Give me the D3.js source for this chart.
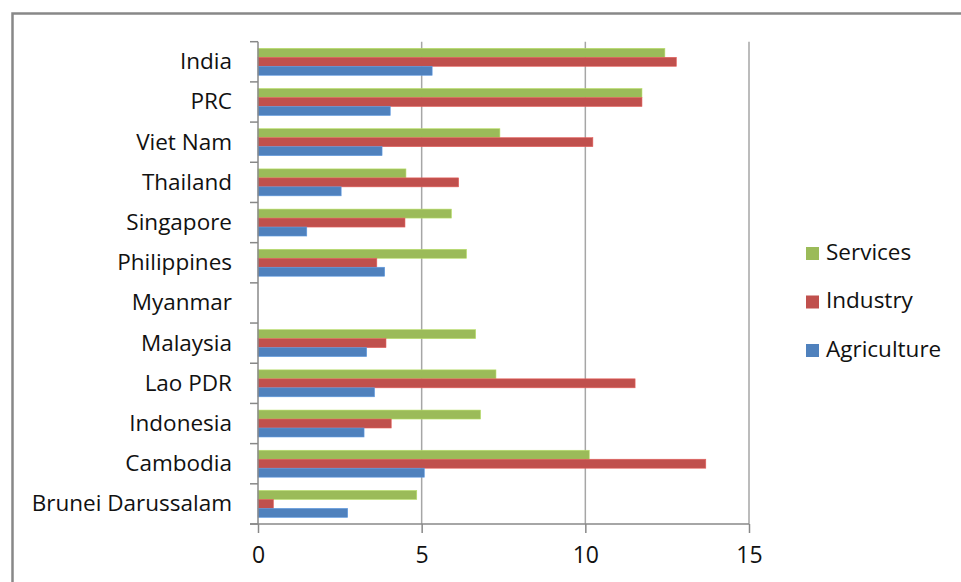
<!DOCTYPE html>
<html>
<head>
<meta charset="utf-8">
<script src="https://cdn.jsdelivr.net/npm/d3@7"></script>
<style>
  body { margin: 0; background: #fff; }
  text { font-family: "Open Sans", sans-serif; fill: #111; }
</style>
</head>
<body>
<div id="viz"></div>
<script>
// countries, top to bottom
var countries = ["India", "PRC", "Viet Nam", "Thailand", "Singapore", "Philippines",
  "Myanmar", "Malaysia", "Lao PDR", "Indonesia", "Cambodia", "Brunei Darussalam"];

var seriesNames = ["Services", "Industry", "Agriculture"];
var seriesColors = ["#9bbb59", "#c0504d", "#4f81bd"];

// values per country, same order as countries (Myanmar has no data)
var services    = [12.43, 11.73, 7.39, 4.52, 5.91, 6.37, null, 6.65, 7.27, 6.80, 10.12, 4.85];
var industry    = [12.78, 11.73, 10.23, 6.13, 4.49, 3.63, null, 3.91, 11.52, 4.07, 13.68, 0.47];
var agriculture = [5.32, 4.04, 3.79, 2.54, 1.49, 3.87, null, 3.32, 3.56, 3.24, 5.08, 2.74];

var xTicks = [0, 5, 10, 15];

var width = 961, height = 582;
var plotLeft = 258, plotRight = 749, plotTop = 41.7, plotBottom = 524;

var seriesData = [services, industry, agriculture];

var svg = d3.select("#viz").append("svg")
  .attr("width", width)
  .attr("height", height);

// outer frame (only top and left visible in the shot)
svg.append("path")
  .attr("d", "M12.5," + height + "V13.5H" + width)
  .attr("fill", "none")
  .attr("stroke", "#888")
  .attr("stroke-width", 2.5);

var x = d3.scaleLinear().domain([0, 15]).range([plotLeft, plotRight]);

var pad = 0.33;
var y = d3.scaleBand()
  .domain(countries)
  .range([plotTop, plotBottom])
  .paddingInner(pad)
  .paddingOuter(pad / 2);

var ySub = d3.scaleBand()
  .domain(seriesNames)
  .range([0, y.bandwidth()]);

// vertical gridlines
svg.append("g").selectAll("line")
  .data(xTicks.filter(function(d) { return d > 0; }))
  .enter().append("line")
    .attr("x1", function(d) { return x(d); })
    .attr("x2", function(d) { return x(d); })
    .attr("y1", plotTop)
    .attr("y2", plotBottom)
    .attr("stroke", "#a6a6a6")
    .attr("stroke-width", 1.5);

// bars
var groups = svg.append("g").selectAll("g")
  .data(countries)
  .enter().append("g")
    .attr("transform", function(d) { return "translate(0," + y(d) + ")"; });

groups.selectAll("rect")
  .data(function(c, i) {
    return seriesNames.map(function(s, j) {
      return { series: s, value: seriesData[j][i], color: seriesColors[j] };
    }).filter(function(d) { return d.value != null; });
  })
  .enter().append("rect")
    .attr("x", x(0))
    .attr("y", function(d) { return ySub(d.series); })
    .attr("width", function(d) { return x(d.value) - x(0); })
    .attr("height", ySub.bandwidth())
    .attr("fill", function(d) { return d.color; })
    .attr("stroke", function(d) { return d3.color(d.color).brighter(0.5); })
    .attr("stroke-width", 0.6);

// bottom axis
var xAxis = d3.axisBottom(x)
  .tickValues(xTicks)
  .tickSize(9)
  .tickPadding(14)
  .tickSizeOuter(0);

var gx = svg.append("g")
  .attr("transform", "translate(0," + plotBottom + ")")
  .call(xAxis);
gx.select(".domain").remove();
gx.append("line")
  .attr("x1", plotLeft - 8).attr("x2", plotRight)
  .attr("stroke", "#888").attr("stroke-width", 1.5);
gx.selectAll(".tick line").attr("stroke", "#888").attr("stroke-width", 1.5);
gx.selectAll(".tick text")
  .attr("font-size", 23)
  .attr("font-family", "Open Sans")
  .attr("fill", "#111");

// left axis: line plus ticks at category boundaries
var step = y.step();
var boundaries = countries.map(function(c) { return y(c) - step * pad / 2; });
boundaries.push(plotBottom);

svg.append("line")
  .attr("x1", plotLeft).attr("x2", plotLeft)
  .attr("y1", plotTop).attr("y2", plotBottom)
  .attr("stroke", "#888").attr("stroke-width", 1.5);

svg.append("g").selectAll("line")
  .data(boundaries)
  .enter().append("line")
    .attr("x1", plotLeft - 8).attr("x2", plotLeft)
    .attr("y1", function(d) { return d; })
    .attr("y2", function(d) { return d; })
    .attr("stroke", "#888").attr("stroke-width", 1.5);

svg.append("g").selectAll("text")
  .data(countries)
  .enter().append("text")
    .attr("x", 232)
    .attr("y", function(d) { return y(d) + y.bandwidth() / 2 - 1; })
    .attr("text-anchor", "end")
    .attr("dominant-baseline", "central")
    .attr("font-size", 22.5)
    .text(function(d) { return d; });

// legend
var legend = svg.append("g").selectAll("g")
  .data(seriesNames)
  .enter().append("g")
    .attr("transform", function(d, i) { return "translate(806," + (253 + i * 48.5) + ")"; });

legend.append("rect")
  .attr("x", 0).attr("y", -6)
  .attr("width", 13).attr("height", 13)
  .attr("fill", function(d, i) { return seriesColors[i]; });

legend.append("text")
  .attr("x", 20)
  .attr("y", -2)
  .attr("dominant-baseline", "central")
  .attr("font-size", 22.5)
  .text(function(d) { return d; });
</script>
</body>
</html>
